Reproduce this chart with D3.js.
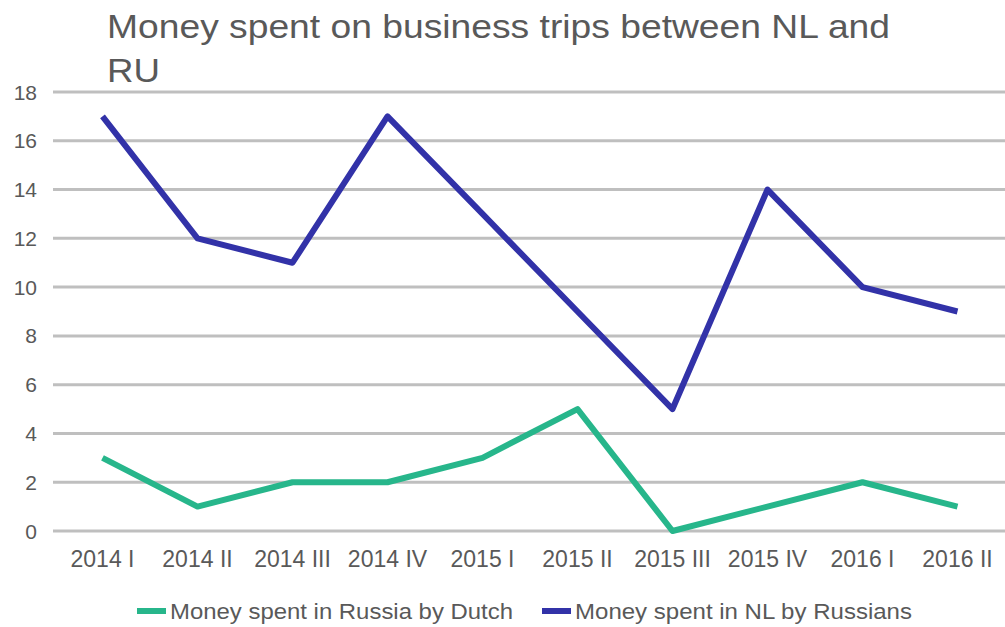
<!DOCTYPE html>
<html>
<head>
<meta charset="utf-8">
<script src="https://d3js.org/d3.v7.min.js"></script>
<style>
  body { margin: 0; background: #fff; }
  text { font-family: Arial, "Liberation Sans", sans-serif; fill: #595959; }
  .grid line { stroke: #bfbfbf; stroke-width: 3px; }
  .series { fill: none; stroke-width: 6px; stroke-linejoin: round; }
</style>
</head>
<body>
<svg width="1005" height="627"></svg>
<script>
var quarters = ["2014 I", "2014 II", "2014 III", "2014 IV", "2015 I", "2015 II", "2015 III", "2015 IV", "2016 I", "2016 II"];
var dutchInRussia = [3, 1, 2, 2, 3, 5, 0, 1, 2, 1];
var russiansInNL = [17, 12, 11, 17, 13, 9, 5, 14, 10, 9];
var yTicks = [0, 2, 4, 6, 8, 10, 12, 14, 16, 18];
var seriesNames = ["Money spent in Russia by Dutch", "Money spent in NL by Russians"];
var seriesColors = ["#27b68b", "#3232a8"];

var svg = d3.select("svg");
var plotLeft = 55, plotRight = 1005, plotTop = 92, plotBottom = 531;

var x = d3.scalePoint().domain(quarters).range([plotLeft, plotRight]).padding(0.5);
var y = d3.scaleLinear().domain([0, 18]).range([plotBottom, plotTop]);

// title
svg.append("text").attr("x", 107).attr("y", 38).attr("font-size", 33)
  .attr("textLength", 783).attr("lengthAdjust", "spacingAndGlyphs")
  .text("Money spent on business trips between NL and");
svg.append("text").attr("x", 107).attr("y", 82).attr("font-size", 33)
  .attr("textLength", 53).attr("lengthAdjust", "spacingAndGlyphs")
  .text("RU");

// gridlines
svg.append("g").attr("class", "grid")
  .selectAll("line").data(yTicks).enter().append("line")
  .attr("x1", 53).attr("x2", plotRight)
  .attr("y1", function(d) { return y(d); })
  .attr("y2", function(d) { return y(d); });

// y labels
svg.append("g").selectAll("text").data(yTicks).enter().append("text")
  .attr("x", 37).attr("y", function(d) { return y(d); })
  .attr("dy", "0.36em").attr("text-anchor", "end").attr("font-size", 21)
  .text(function(d) { return d; });

// x labels
svg.append("g").selectAll("text").data(quarters).enter().append("text")
  .attr("x", function(d) { return x(d); }).attr("y", 567)
  .attr("text-anchor", "middle").attr("font-size", 23)
  .text(function(d) { return d; });

var line = d3.line()
  .x(function(d, i) { return x(quarters[i]); })
  .y(function(d) { return y(d); });

[dutchInRussia, russiansInNL].forEach(function(s, i) {
  svg.append("path").attr("class", "series")
    .attr("stroke", seriesColors[i])
    .attr("d", line(s));
});

// legend
var legendX = [137, 542];
var legendLen = [343, 337];
seriesNames.forEach(function(name, i) {
  var g = svg.append("g").attr("transform", "translate(" + legendX[i] + ",611)");
  g.append("line").attr("x1", 0).attr("x2", 29).attr("y1", 0).attr("y2", 0)
    .attr("stroke", seriesColors[i]).attr("stroke-width", 6);
  g.append("text").attr("x", 33).attr("y", 0).attr("dy", "0.36em")
    .attr("font-size", 22)
    .attr("textLength", legendLen[i]).attr("lengthAdjust", "spacingAndGlyphs")
    .text(name);
});
</script>
</body>
</html>
